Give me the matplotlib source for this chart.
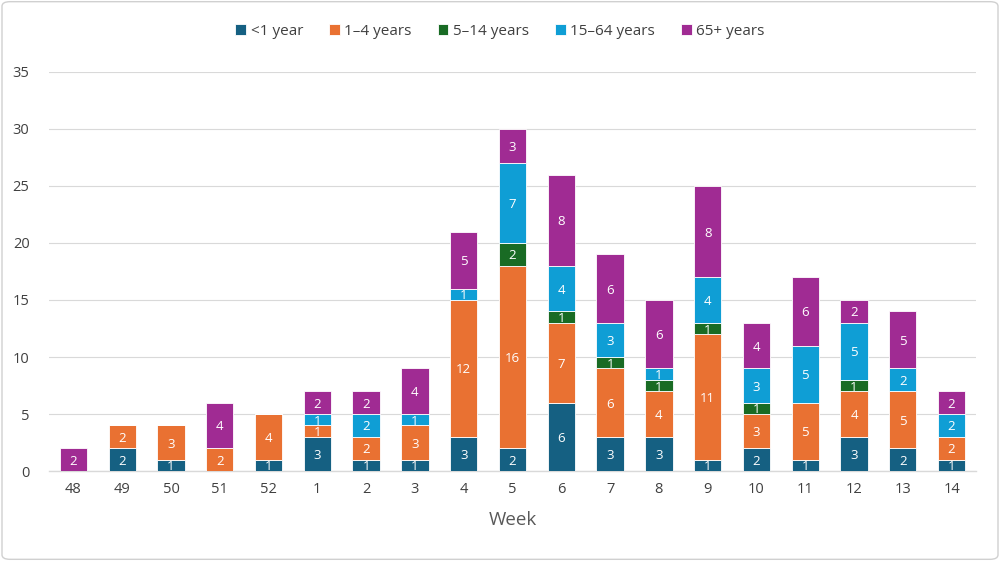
import matplotlib
matplotlib.use("Agg")
import matplotlib.pyplot as plt
from matplotlib.patches import FancyBboxPatch
import numpy as np

weeks = ["48", "49", "50", "51", "52", "1", "2", "3", "4", "5", "6", "7", "8", "9", "10", "11", "12", "13", "14"]
series_names = ["<1 year", "1–4 years", "5–14 years", "15–64 years", "65+ years"]
lt1 = [0, 2, 1, 0, 1, 3, 1, 1, 3, 2, 6, 3, 3, 1, 2, 1, 3, 2, 1]
y1_4 = [0, 2, 3, 2, 4, 1, 2, 3, 12, 16, 7, 6, 4, 11, 3, 5, 4, 5, 2]
y5_14 = [0, 0, 0, 0, 0, 0, 0, 0, 0, 2, 1, 1, 1, 1, 1, 0, 1, 0, 0]
y15_64 = [0, 0, 0, 0, 0, 1, 2, 1, 1, 7, 4, 3, 1, 4, 3, 5, 5, 2, 2]
y65 = [2, 0, 0, 4, 0, 2, 2, 4, 5, 3, 8, 6, 6, 8, 4, 6, 2, 5, 2]
colors = ["#156082", "#E97132", "#196B24", "#0F9ED5", "#A02B93"]

plt.rcParams['font.family'] = ['Open Sans', 'DejaVu Sans']

fig = plt.figure(figsize=(10, 5.61), dpi=100)
ax = fig.add_axes([0.049, 0.1604, 0.927, 0.7113])

x = np.arange(len(weeks))
bottom = np.zeros(len(weeks))
for name, vals, c in zip(series_names, [lt1, y1_4, y5_14, y15_64, y65], colors):
    vals = np.array(vals, dtype=float)
    ax.bar(x, vals, 0.56, bottom=bottom, color=c, edgecolor="white", linewidth=0.6, label=name, zorder=3)
    for xi, b, v in zip(x, bottom, vals):
        if v > 0:
            ax.text(xi, b + v / 2, f"{int(v)}", ha="center", va="center_baseline", color="white",
                    fontsize=9.5, zorder=4)
    bottom += vals

ax.set_xlim(-0.5, len(weeks) - 0.5)
ax.set_ylim(0, 35)
ax.set_yticks(range(0, 36, 5))
ax.set_xticks(x)
ax.set_xticklabels(weeks)
ax.grid(axis="y", color="#D9D9D9", linewidth=0.8, zorder=0)
for s in ["top", "right", "left"]:
    ax.spines[s].set_visible(False)
ax.spines["bottom"].set_color("#D9D9D9")
ax.spines["bottom"].set_linewidth(1.0)
ax.tick_params(axis="both", length=0, labelsize=10.5, labelcolor="#404040", pad=8)
ax.tick_params(axis="y", pad=14)
ax.set_xlabel("Week", fontsize=13.5, color="#595959", labelpad=10)

leg = fig.legend(loc="upper center", bbox_to_anchor=(0.5, 0.982), ncol=5, frameon=False,
                 fontsize=11, handlelength=0.7, handleheight=0.7, handletextpad=0.3, columnspacing=1.7,
                 labelcolor="#404040")

border = FancyBboxPatch((0.002, 0.003), 0.996, 0.994, boxstyle="round,pad=0,rounding_size=0.008",
                        transform=fig.transFigure, facecolor="none", edgecolor="#D0D0D0", linewidth=1.0)
fig.patches.append(border)

fig.savefig("out.png", dpi=100)
